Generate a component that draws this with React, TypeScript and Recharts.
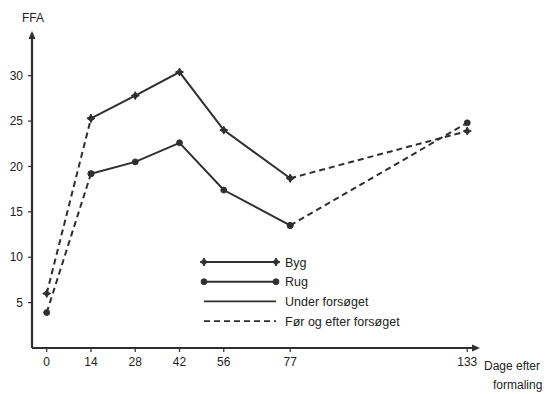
import React from "react";
import { LineChart, Line, XAxis, YAxis, ReferenceDot } from "recharts";

const days = [0, 14, 28, 42, 56, 77, 133];
const byg = [6.0, 25.3, 27.8, 30.4, 24.0, 18.7, 23.9];
const rug = [3.9, 19.2, 20.5, 22.6, 17.4, 13.5, 24.8];
const yTicks = [5, 10, 15, 20, 25, 30];
const legendItems = ["Byg", "Rug", "Under  forsøget", "Før og efter forsøget"];

// trial period: between day 14 and day 77 (solid); outside dashed
const inTrial = (d: number) => d >= 14 && d <= 77;
const outTrial = (d: number) => d <= 14 || d >= 77;

const data = days.map((d, i) => ({
  day: d,
  bygSolid: inTrial(d) ? byg[i] : null,
  bygDash: outTrial(d) ? byg[i] : null,
  rugSolid: inTrial(d) ? rug[i] : null,
  rugDash: outTrial(d) ? rug[i] : null,
}));

const INK = "#2f2f2f";
const FONT = "'Liberation Sans', Arial, sans-serif";
const X_MIN = -4.65;
const X_MAX = 136.4;
const Y_MAX = 34.7;

const Star = ({ cx, cy, s = 4 }: any) => {
  if (cx == null || cy == null) return null;
  const a = s * 0.35;
  const d = `M${cx},${cy - s} L${cx + a},${cy - a} L${cx + s},${cy} L${cx + a},${cy + a} L${cx},${cy + s} L${cx - a},${cy + a} L${cx - s},${cy} L${cx - a},${cy - a} Z`;
  return <path d={d} fill={INK} stroke={INK} strokeWidth={1} />;
};

const Dot = ({ cx, cy }: any) => {
  if (cx == null || cy == null) return null;
  return <circle cx={cx} cy={cy} r={3} fill={INK} stroke={INK} strokeWidth={0.8} />;
};

const bygDot = (p: any) => (p.value == null ? <g key={p.key} /> : <Star key={p.key} cx={p.cx} cy={p.cy} />);
const rugDot = (p: any) => (p.value == null ? <g key={p.key} /> : <Dot key={p.key} cx={p.cx} cy={p.cy} />);

const UpArrow = ({ cx, cy }: any) => (
  <path d={`M${cx},${cy - 2} L${cx - 3.5},${cy + 6} L${cx + 3.5},${cy + 6} Z`} fill={INK} />
);
const RightArrow = ({ cx, cy }: any) => (
  <path d={`M${cx + 2},${cy} L${cx - 6},${cy - 3.5} L${cx - 6},${cy + 3.5} Z`} fill={INK} />
);

const LegendBox = () => (
  <svg width={240} height={80} style={{ position: "absolute", left: 200, top: 252, overflow: "visible" }}>
    {legendItems.map((label, i) => {
      const y = 10 + i * 19.7;
      const dashed = i === 3;
      return (
        <g key={label}>
          <line
            x1={4}
            x2={76}
            y1={y}
            y2={y}
            stroke={INK}
            strokeWidth={i >= 2 ? 1.6 : 2}
            strokeDasharray={dashed ? "6 4" : undefined}
          />
          {i === 0 && <Star cx={4} cy={y} />}
          {i === 0 && <Star cx={76} cy={y} />}
          {i === 1 && <Dot cx={4} cy={y} />}
          {i === 1 && <Dot cx={76} cy={y} />}
          <text x={85} y={y + 4.5} fontSize={12.5} fill="#222" fontFamily={FONT}>
            {label}
          </text>
        </g>
      );
    })}
  </svg>
);

export default function App() {
  return (
    <div style={{ position: "absolute", left: 0, top: 0, width: 551, height: 394, background: "#fff" }}>
      <LineChart
        width={551}
        height={394}
        data={data}
        margin={{ top: 33, right: 73, bottom: 0, left: 0 }}
        style={{ fontFamily: FONT }}
      >
        <XAxis
          dataKey="day"
          type="number"
          domain={[X_MIN, X_MAX]}
          ticks={days}
          allowDataOverflow
          height={46}
          axisLine={{ stroke: INK, strokeWidth: 2.2 }}
          tickLine={{ stroke: INK, strokeWidth: 1.2 }}
          tickSize={4}
          tickMargin={5}
          tick={{ fill: "#222", fontSize: 12, fontFamily: FONT }}
        />
        <YAxis
          type="number"
          domain={[0, Y_MAX]}
          ticks={yTicks}
          allowDataOverflow
          width={32}
          axisLine={{ stroke: INK, strokeWidth: 2.2 }}
          tickLine={{ stroke: INK, strokeWidth: 1.2 }}
          tickSize={4}
          tickMargin={5}
          tick={{ fill: "#222", fontSize: 12, fontFamily: FONT }}
        />
        <Line dataKey="bygDash" stroke={INK} strokeWidth={2} strokeDasharray="6 4" dot={bygDot} isAnimationActive={false} connectNulls={false} />
        <Line dataKey="rugDash" stroke={INK} strokeWidth={2} strokeDasharray="6 4" dot={rugDot} isAnimationActive={false} connectNulls={false} />
        <Line dataKey="bygSolid" stroke={INK} strokeWidth={2} dot={bygDot} isAnimationActive={false} connectNulls={false} />
        <Line dataKey="rugSolid" stroke={INK} strokeWidth={2} dot={rugDot} isAnimationActive={false} connectNulls={false} />
        <ReferenceDot x={X_MIN} y={Y_MAX} r={0} ifOverflow="visible" shape={(p: any) => <UpArrow cx={p.cx} cy={p.cy} />} />
        <ReferenceDot x={X_MAX} y={0} r={0} ifOverflow="visible" shape={(p: any) => <RightArrow cx={p.cx} cy={p.cy} />} />
      </LineChart>
      <LegendBox />
      <div style={{ position: "absolute", left: 22, top: 11, fontSize: 12, fontFamily: FONT, color: "#222" }}>FFA</div>
      <div style={{ position: "absolute", left: 484, top: 357, fontSize: 12, fontFamily: FONT, color: "#222", lineHeight: "19px" }}>
        Dage efter
        <br />
        <span style={{ marginLeft: 9 }}>formaling</span>
      </div>
    </div>
  );
}
